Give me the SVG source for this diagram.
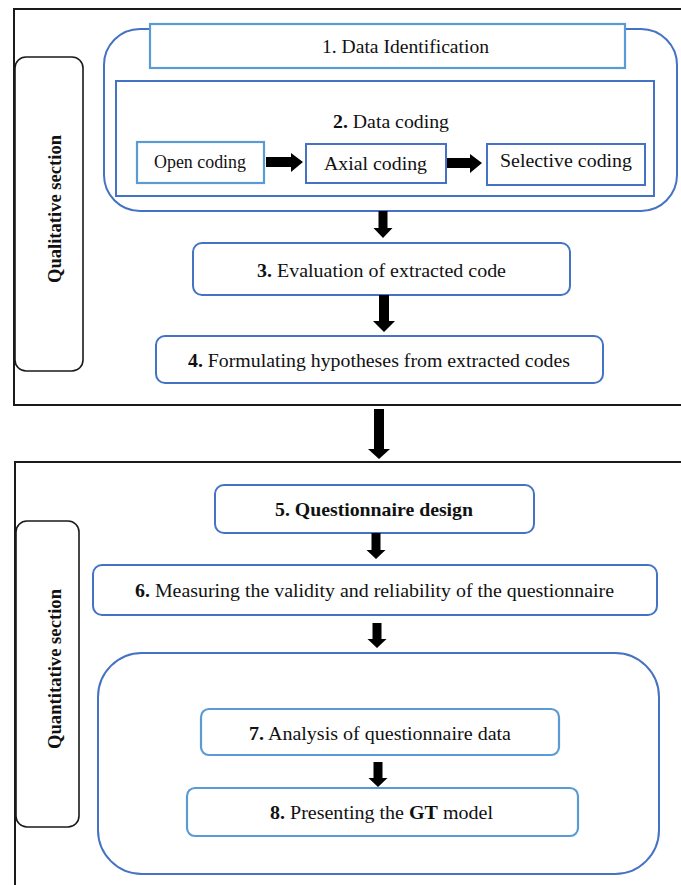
<svg xmlns="http://www.w3.org/2000/svg" width="681" height="885" viewBox="0 0 681 885">
<style>
.sec{fill:none;stroke:#1a1a1a;stroke-width:2}
.lab{fill:#fff;stroke:#1a1a1a;stroke-width:1.6}
.dk{fill:#fff;stroke:#4472C4;stroke-width:2}
.lt{fill:#fff;stroke:#5B9BD5;stroke-width:2.2}
.t{font-family:"Liberation Serif","Times New Roman",serif;font-size:19.5px;fill:#111}
.v{font-size:18.5px;text-anchor:middle}
.b{font-weight:bold}
.arr{fill:#000}
</style>
<rect width="681" height="885" fill="#fff"/>
<g id="qualitative-frame">
<path class="sec" d="M690,9 H14 V405 H690"/>
</g>
<g id="quantitative-frame">
<path class="sec" d="M690,462 H15 V890"/>
</g>
<g id="qualitative-label">
<rect class="lab" x="15" y="57" width="68" height="314" rx="11"/>
<text class="t v b" transform="translate(61,209) rotate(-90)" textLength="148" lengthAdjust="spacingAndGlyphs">Qualitative section</text>
</g>
<g id="quantitative-label">
<rect class="lab" x="16" y="521" width="63" height="306" rx="11"/>
<text class="t v b" transform="translate(61,669) rotate(-90)" textLength="160" lengthAdjust="spacingAndGlyphs">Quantitative section</text>
</g>
<g id="container-qual">
<rect class="dk" x="104" y="29" width="573" height="182" rx="36"/>
</g>
<g id="node1">
<rect class="lt" x="150" y="24" width="475" height="44"/>
<text class="t" x="322" y="53" textLength="167" lengthAdjust="spacingAndGlyphs">1. Data Identification</text>
</g>
<g id="node2">
<rect class="dk" x="116" y="81" width="538" height="115"/>
<text class="t" x="333" y="127.5" textLength="116" lengthAdjust="spacingAndGlyphs"><tspan class="b">2.</tspan> Data coding</text>
</g>
<g id="open-coding">
<rect class="lt" x="137" y="142" width="127" height="41"/>
<text class="t" x="154" y="168" style="font-size:18px" textLength="92" lengthAdjust="spacingAndGlyphs">Open coding</text>
</g>
<g id="axial-coding">
<rect class="dk" x="306" y="144" width="140" height="39"/>
<text class="t" x="324" y="170" textLength="103" lengthAdjust="spacingAndGlyphs">Axial coding</text>
</g>
<g id="selective-coding">
<rect class="dk" x="487" y="144" width="158" height="41"/>
<text class="t" x="500" y="167" textLength="132" lengthAdjust="spacingAndGlyphs">Selective coding</text>
</g>
<g id="node3">
<rect class="dk" x="193" y="243" width="377" height="52" rx="9"/>
<text class="t" x="257" y="276.5" textLength="249" lengthAdjust="spacingAndGlyphs"><tspan class="b">3.</tspan> Evaluation of extracted code</text>
</g>
<g id="node4">
<rect class="dk" x="156" y="336" width="447" height="47" rx="9"/>
<text class="t" x="188" y="366.5" textLength="382" lengthAdjust="spacingAndGlyphs"><tspan class="b">4.</tspan> Formulating hypotheses from extracted codes</text>
</g>
<g id="node5">
<rect class="dk" x="215" y="485" width="319" height="48" rx="9"/>
<text class="t b" x="275" y="515.5" textLength="198" lengthAdjust="spacingAndGlyphs">5. Questionnaire design</text>
</g>
<g id="node6">
<rect class="dk" x="93" y="565" width="564" height="50" rx="9"/>
<text class="t" x="135" y="596.5" textLength="479" lengthAdjust="spacingAndGlyphs"><tspan class="b">6.</tspan> Measuring the validity and reliability of the questionnaire</text>
</g>
<g id="container-quant">
<rect class="dk" x="98" y="653" width="561" height="221" rx="44"/>
</g>
<g id="node7">
<rect class="lt" x="201" y="709" width="358" height="46" rx="8"/>
<text class="t" x="249" y="739.5" textLength="262" lengthAdjust="spacingAndGlyphs"><tspan class="b">7.</tspan> Analysis of questionnaire data</text>
</g>
<g id="node8">
<rect class="lt" x="187" y="788" width="391" height="48" rx="8"/>
<text class="t" x="270" y="819" textLength="223" lengthAdjust="spacingAndGlyphs"><tspan class="b">8.</tspan> Presenting the <tspan class="b">GT</tspan> model</text>
</g>
<g id="connectors">
<polygon class="arr" points="266,157 291,157 291,153 303,162 291,172 291,167 266,167"/>
<polygon class="arr" points="447,158 470,158 470,154 482,163 470,173 470,168 447,168"/>
<polygon class="arr" points="378.5,211 387.5,211 387.5,228 392.5,228 383,238 373.5,228 378.5,228"/>
<polygon class="arr" points="379,295 389,295 389,321 395,321 384,332 373,321 379,321"/>
<polygon class="arr" points="374,409 384,409 384,449 390,449 379,459 368,449 374,449"/>
<polygon class="arr" points="371.5,533 380.5,533 380.5,550 385.5,550 376,559 366.5,550 371.5,550"/>
<polygon class="arr" points="372.5,623 381.5,623 381.5,639 386.5,639 377,648 367.5,639 372.5,639"/>
<polygon class="arr" points="373.5,762 382.5,762 382.5,778 387.5,778 378,787 368.5,778 373.5,778"/>
</g>
</svg>
